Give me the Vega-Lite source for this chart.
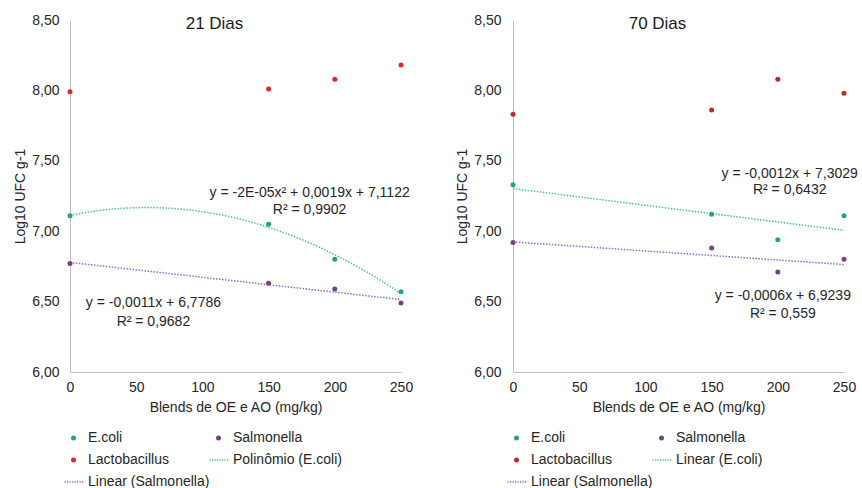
{
  "$schema": "https://vega.github.io/schema/vega-lite/v6.json",
  "padding": {"top": 13, "left": 13, "right": 0, "bottom": 0},
  "spacing": 42,
  "datasets": {
    "d21": [
      {"dose": 0, "value": 7.11, "serie": "E.coli"},
      {"dose": 150, "value": 7.05, "serie": "E.coli"},
      {"dose": 200, "value": 6.80, "serie": "E.coli"},
      {"dose": 250, "value": 6.57, "serie": "E.coli"},
      {"dose": 0, "value": 6.77, "serie": "Salmonella"},
      {"dose": 150, "value": 6.63, "serie": "Salmonella"},
      {"dose": 200, "value": 6.59, "serie": "Salmonella"},
      {"dose": 250, "value": 6.49, "serie": "Salmonella"},
      {"dose": 0, "value": 7.99, "serie": "Lactobacillus"},
      {"dose": 150, "value": 8.01, "serie": "Lactobacillus"},
      {"dose": 200, "value": 8.08, "serie": "Lactobacillus"},
      {"dose": 250, "value": 8.18, "serie": "Lactobacillus"}
    ],
    "d70": [
      {"dose": 0, "value": 7.33, "serie": "E.coli"},
      {"dose": 150, "value": 7.12, "serie": "E.coli"},
      {"dose": 200, "value": 6.94, "serie": "E.coli"},
      {"dose": 250, "value": 7.11, "serie": "E.coli"},
      {"dose": 0, "value": 6.92, "serie": "Salmonella"},
      {"dose": 150, "value": 6.88, "serie": "Salmonella"},
      {"dose": 200, "value": 6.71, "serie": "Salmonella"},
      {"dose": 250, "value": 6.80, "serie": "Salmonella"},
      {"dose": 0, "value": 7.83, "serie": "Lactobacillus"},
      {"dose": 150, "value": 7.86, "serie": "Lactobacillus"},
      {"dose": 200, "value": 8.08, "serie": "Lactobacillus"},
      {"dose": 250, "value": 7.98, "serie": "Lactobacillus"}
    ]
  },
  "hconcat": [
    {
      "width": 331,
      "height": 352,
      "title": {"text": "21 Dias", "offset": -20, "dx": -21},
      "data": {"name": "d21"},
      "layer": [
        {
          "transform": [
            {"filter": "datum.serie === 'E.coli'"},
            {"regression": "value", "on": "dose", "method": "poly", "order": 2, "extent": [0, 250]}
          ],
          "mark": {"type": "line", "color": "#4cc38a", "strokeDash": [1.5, 1.5], "strokeWidth": 1.5},
          "encoding": {
            "x": {"field": "dose", "type": "quantitative"},
            "y": {"field": "value", "type": "quantitative"}
          }
        },
        {
          "transform": [
            {"filter": "datum.serie === 'Salmonella'"},
            {"regression": "value", "on": "dose", "extent": [0, 250]}
          ],
          "mark": {"type": "line", "color": "#8b6fc8", "strokeDash": [1.5, 1.5], "strokeWidth": 1.5},
          "encoding": {
            "x": {"field": "dose", "type": "quantitative"},
            "y": {"field": "value", "type": "quantitative"}
          }
        },
        {
          "mark": {"type": "point", "filled": true, "size": 25, "opacity": 1},
          "encoding": {
            "x": {"field": "dose", "type": "quantitative", "title": "Blends de OE e AO (mg/kg)",
                  "scale": {"domain": [0, 250], "nice": false},
                  "axis": {"values": [0, 50, 100, 150, 200, 250], "labelFlush": false, "labelPadding": 8, "titlePadding": 6}},
            "y": {"field": "value", "type": "quantitative", "title": "Log10 UFC g-1",
                  "scale": {"domain": [6, 8.5], "nice": false, "zero": false},
                  "axis": {"values": [6, 6.5, 7, 7.5, 8, 8.5], "labelFlush": false, "labelExpr": "replace(format(datum.value, '.2f'), '.', ',')", "labelPadding": 11, "titlePadding": 4}},
            "color": {"field": "serie", "type": "nominal",
                      "scale": {"domain": ["E.coli", "Lactobacillus", "Linear (Salmonella)", "Salmonella", "Polinômio (E.coli)"],
                                "range": ["#20a57a", "#e3262d", "#8b6fc8", "#7a3d8c", "#4cc38a"]},
                      "legend": {"title": null, "orient": "none", "legendX": -3.5, "legendY": 411, "columns": 2, "columnPadding": 0, "rowPadding": 8, "labelOffset": 7.5, "symbolSize": 25, "symbolStrokeWidth": 0, "padding": 0}},
            "shape": {"field": "serie", "type": "nominal",
                      "scale": {"domain": ["E.coli", "Lactobacillus", "Linear (Salmonella)", "Salmonella", "Polinômio (E.coli)"],
                                "range": ["circle", "circle",
                                  "M-3.6,-0.3h0.5v0.6h-0.5Z M-2.6,-0.3h0.5v0.6h-0.5Z M-1.6,-0.3h0.5v0.6h-0.5Z M-0.6,-0.3h0.5v0.6h-0.5Z M0.4,-0.3h0.5v0.6h-0.5Z M1.4,-0.3h0.5v0.6h-0.5Z M2.4,-0.3h0.5v0.6h-0.5Z M3.4,-0.3h0.5v0.6h-0.5Z",
                                  "circle",
                                  "M-3.6,-0.3h0.5v0.6h-0.5Z M-2.6,-0.3h0.5v0.6h-0.5Z M-1.6,-0.3h0.5v0.6h-0.5Z M-0.6,-0.3h0.5v0.6h-0.5Z M0.4,-0.3h0.5v0.6h-0.5Z M1.4,-0.3h0.5v0.6h-0.5Z M2.4,-0.3h0.5v0.6h-0.5Z M3.4,-0.3h0.5v0.6h-0.5Z"]},
                      "legend": {"title": null, "orient": "none", "legendX": -3.5, "legendY": 411, "columns": 2, "columnPadding": 0, "rowPadding": 8, "labelOffset": 7.5, "symbolSize": 25, "symbolStrokeWidth": 0, "padding": 0}}
          }
        },
        {
          "data": {"values": [{}]},
          "mark": {"type": "text", "fontSize": 14, "color": "#262626"},
          "encoding": {"x": {"datum": 181, "type": "quantitative"}, "y": {"datum": 7.27, "type": "quantitative"}, "text": {"value": "y = -2E-05x² + 0,0019x + 7,1122"}}
        },
        {
          "data": {"values": [{}]},
          "mark": {"type": "text", "fontSize": 14, "color": "#262626"},
          "encoding": {"x": {"datum": 181, "type": "quantitative"}, "y": {"datum": 7.15, "type": "quantitative"}, "text": {"value": "R² = 0,9902"}}
        },
        {
          "data": {"values": [{}]},
          "mark": {"type": "text", "fontSize": 14, "color": "#262626"},
          "encoding": {"x": {"datum": 63, "type": "quantitative"}, "y": {"datum": 6.49, "type": "quantitative"}, "text": {"value": "y = -0,0011x + 6,7786"}}
        },
        {
          "data": {"values": [{}]},
          "mark": {"type": "text", "fontSize": 14, "color": "#262626"},
          "encoding": {"x": {"datum": 63, "type": "quantitative"}, "y": {"datum": 6.355, "type": "quantitative"}, "text": {"value": "R² = 0,9682"}}
        }
      ]
    },
    {
      "width": 331,
      "height": 352,
      "title": {"text": "70 Dias", "offset": -20, "dx": -21},
      "data": {"name": "d70"},
      "layer": [
        {
          "transform": [
            {"filter": "datum.serie === 'E.coli'"},
            {"regression": "value", "on": "dose", "extent": [0, 250]}
          ],
          "mark": {"type": "line", "color": "#4cc38a", "strokeDash": [1.5, 1.5], "strokeWidth": 1.5},
          "encoding": {
            "x": {"field": "dose", "type": "quantitative"},
            "y": {"field": "value", "type": "quantitative"}
          }
        },
        {
          "transform": [
            {"filter": "datum.serie === 'Salmonella'"},
            {"regression": "value", "on": "dose", "extent": [0, 250]}
          ],
          "mark": {"type": "line", "color": "#8b6fc8", "strokeDash": [1.5, 1.5], "strokeWidth": 1.5},
          "encoding": {
            "x": {"field": "dose", "type": "quantitative"},
            "y": {"field": "value", "type": "quantitative"}
          }
        },
        {
          "mark": {"type": "point", "filled": true, "size": 25, "opacity": 1},
          "encoding": {
            "x": {"field": "dose", "type": "quantitative", "title": "Blends de OE e AO (mg/kg)",
                  "scale": {"domain": [0, 250], "nice": false},
                  "axis": {"values": [0, 50, 100, 150, 200, 250], "labelFlush": false, "labelPadding": 8, "titlePadding": 6}},
            "y": {"field": "value", "type": "quantitative", "title": "Log10 UFC g-1",
                  "scale": {"domain": [6, 8.5], "nice": false, "zero": false},
                  "axis": {"values": [6, 6.5, 7, 7.5, 8, 8.5], "labelFlush": false, "labelExpr": "replace(format(datum.value, '.2f'), '.', ',')", "labelPadding": 12, "titlePadding": 4}},
            "color": {"field": "serie", "type": "nominal",
                      "scale": {"domain": ["E.coli", "Lactobacillus", "Linear (Salmonella)", "Salmonella", "Linear (E.coli)"],
                                "range": ["#20a57a", "#c0282d", "#8b6fc8", "#7a3d8c", "#4cc38a"]},
                      "legend": {"title": null, "orient": "none", "legendX": -3.5, "legendY": 411, "columns": 2, "columnPadding": 0, "rowPadding": 8, "labelOffset": 7.5, "symbolSize": 25, "symbolStrokeWidth": 0, "padding": 0}},
            "shape": {"field": "serie", "type": "nominal",
                      "scale": {"domain": ["E.coli", "Lactobacillus", "Linear (Salmonella)", "Salmonella", "Linear (E.coli)"],
                                "range": ["circle", "circle",
                                  "M-3.6,-0.3h0.5v0.6h-0.5Z M-2.6,-0.3h0.5v0.6h-0.5Z M-1.6,-0.3h0.5v0.6h-0.5Z M-0.6,-0.3h0.5v0.6h-0.5Z M0.4,-0.3h0.5v0.6h-0.5Z M1.4,-0.3h0.5v0.6h-0.5Z M2.4,-0.3h0.5v0.6h-0.5Z M3.4,-0.3h0.5v0.6h-0.5Z",
                                  "circle",
                                  "M-3.6,-0.3h0.5v0.6h-0.5Z M-2.6,-0.3h0.5v0.6h-0.5Z M-1.6,-0.3h0.5v0.6h-0.5Z M-0.6,-0.3h0.5v0.6h-0.5Z M0.4,-0.3h0.5v0.6h-0.5Z M1.4,-0.3h0.5v0.6h-0.5Z M2.4,-0.3h0.5v0.6h-0.5Z M3.4,-0.3h0.5v0.6h-0.5Z"]},
                      "legend": {"title": null, "orient": "none", "legendX": -3.5, "legendY": 411, "columns": 2, "columnPadding": 0, "rowPadding": 8, "labelOffset": 7.5, "symbolSize": 25, "symbolStrokeWidth": 0, "padding": 0}}
          }
        },
        {
          "data": {"values": [{}]},
          "mark": {"type": "text", "fontSize": 14, "color": "#262626"},
          "encoding": {"x": {"datum": 209, "type": "quantitative"}, "y": {"datum": 7.406, "type": "quantitative"}, "text": {"value": "y = -0,0012x + 7,3029"}}
        },
        {
          "data": {"values": [{}]},
          "mark": {"type": "text", "fontSize": 14, "color": "#262626"},
          "encoding": {"x": {"datum": 209, "type": "quantitative"}, "y": {"datum": 7.293, "type": "quantitative"}, "text": {"value": "R² = 0,6432"}}
        },
        {
          "data": {"values": [{}]},
          "mark": {"type": "text", "fontSize": 14, "color": "#262626"},
          "encoding": {"x": {"datum": 203.8, "type": "quantitative"}, "y": {"datum": 6.54, "type": "quantitative"}, "text": {"value": "y = -0,0006x + 6,9239"}}
        },
        {
          "data": {"values": [{}]},
          "mark": {"type": "text", "fontSize": 14, "color": "#262626"},
          "encoding": {"x": {"datum": 203.8, "type": "quantitative"}, "y": {"datum": 6.41, "type": "quantitative"}, "text": {"value": "R² = 0,559"}}
        }
      ]
    }
  ],
  "resolve": {
    "scale": {"color": "independent", "shape": "independent"},
    "legend": {"color": "independent", "shape": "independent"}
  },
  "config": {
    "font": "Liberation Sans",
    "view": {"stroke": null},
    "axis": {
      "domainColor": "#bfbfbf",
      "domainWidth": 1,
      "ticks": false,
      "grid": false,
      "labelFont": "Liberation Sans",
      "labelFontSize": 14,
      "labelColor": "#262626",
      "titleFont": "Liberation Sans",
      "titleFontSize": 14,
      "titleFontWeight": "normal",
      "titleColor": "#262626"
    },
    "legend": {
      "labelFont": "Liberation Sans",
      "labelFontSize": 14,
      "labelColor": "#262626"
    },
    "title": {
      "font": "Liberation Sans",
      "fontSize": 17,
      "fontWeight": "normal",
      "color": "#1a1a1a"
    },
    "text": {"font": "Liberation Sans"}
  }
}
